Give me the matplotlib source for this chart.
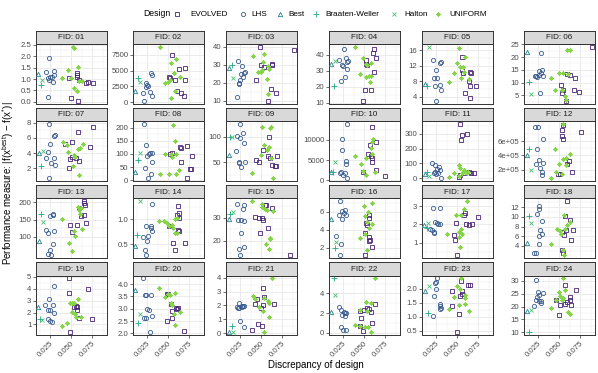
import numpy as np
import matplotlib
matplotlib.use("Agg")
import matplotlib.pyplot as plt
from matplotlib.lines import Line2D

plt.rcParams["font.family"] = ["Liberation Sans", "DejaVu Sans"]
plt.rcParams["mathtext.fontset"] = "custom"
plt.rcParams["mathtext.rm"] = "Liberation Sans"

# Design of every point, same order in every panel:
# Best, Braaten-Weller, Halton, 10 x LHS, 10 x UNIFORM, 10 x EVOLVED
designs = (["Best", "Braaten-Weller", "Halton"] + ["LHS"] * 10
           + ["UNIFORM"] * 10 + ["EVOLVED"] * 10)

legend_order = ["EVOLVED", "LHS", "Best", "Braaten-Weller", "Halton", "UNIFORM"]

# x = discrepancy of design, y = performance measure (one pair per FID)
f01_x = [0.0111, 0.0139, 0.0155, 0.0238, 0.0198, 0.0222, 0.025, 0.027, 0.0302, 0.0302, 0.0282, 0.0222, 0.0242,
         0.052, 0.0536, 0.0579, 0.0464, 0.0393, 0.0496, 0.0599, 0.0627, 0.0536, 0.0567,
         0.0567, 0.0575, 0.0476, 0.0599, 0.0679, 0.0706, 0.0766, 0.050, 0.0579, 0.0567]
f01_y = [1.22, 0.74, 0.96, 1.92, 1.32, 1.03, 1.08, 1.10, 1.34, 1.19, 0.88, 0.22, 0.97,
         2.41, 2.35, 1.54, 1.40, 1.05, 1.05, 0.93, 0.90, 0.62, 0.46,
         1.26, 1.10, 1.05, 0.95, 0.81, 0.86, 0.82, 0.16, 0.05, 1.18]

f02_x = [0.0111, 0.0143, 0.0163, 0.0214, 0.0202, 0.0242, 0.0254, 0.0234, 0.0262, 0.0294, 0.031, 0.029, 0.031,
         0.0401, 0.0591, 0.054, 0.0567, 0.0639, 0.046, 0.050, 0.052, 0.0587, 0.054,
         0.0548, 0.0627, 0.0698, 0.0508, 0.052, 0.0579, 0.0706, 0.0611, 0.0659, 0.0687]
f02_y = [1795, 3800, 3270, 210, 1425, 3010, 2690, 2430, 2550, 4590, 4280, 1640, 1000,
         8820, 6920, 6180, 4700, 4070, 3010, 3270, 3540, 1690, 630,
         7440, 5330, 5490, 4070, 3910, 3480, 3540, 1690, 1425, 900]

f03_x = [0.0123, 0.0155, 0.0163, 0.0226, 0.027, 0.021, 0.0242, 0.025, 0.0262, 0.029, 0.031, 0.0302, 0.0242,
         0.0409, 0.054, 0.0528, 0.0468, 0.050, 0.0508, 0.0599, 0.0587, 0.0567, 0.0587,
         0.0488, 0.0895, 0.0496, 0.054, 0.0627, 0.0635, 0.044, 0.0619, 0.0675, 0.0579]
f03_y = [28.4, 29.7, 22.9, 32.1, 29.3, 12.2, 20.1, 21.4, 24.7, 23.3, 26.2, 25.3, 19.2,
         34.9, 35.8, 31.7, 26.2, 25.7, 27.0, 27.9, 29.3, 22.3, 13.7,
         40.0, 38.2, 29.9, 28.8, 30.3, 29.7, 21.4, 16.4, 14.6, 10.0]

f04_x = [0.0111, 0.0143, 0.0159, 0.0258, 0.0282, 0.0302, 0.0242, 0.025, 0.0302, 0.0278, 0.0222, 0.0202, 0.031,
         0.0389, 0.0488, 0.054, 0.0587, 0.052, 0.0456, 0.0528, 0.056, 0.0587, 0.0567,
         0.0615, 0.0607, 0.0639, 0.052, 0.0536, 0.0615, 0.0508, 0.0579, 0.0492, 0.0528]
f04_y = [34.2, 20.6, 36.3, 44.0, 38.3, 35.8, 33.5, 33.1, 31.5, 26.3, 23.75, 36.7, 36.0,
         45.2, 37.9, 33.75, 35.2, 34.2, 28.3, 26.25, 26.9, 26.9, 23.3,
         43.5, 41.0, 37.9, 36.9, 33.5, 29.6, 18.3, 18.1, 11.25, 34.2]

f05_x = [0.0123, 0.0143, 0.0171, 0.021, 0.0302, 0.0313, 0.025, 0.0222, 0.0262, 0.0234, 0.0294, 0.031, 0.025,
         0.0528, 0.0591, 0.050, 0.054, 0.0571, 0.046, 0.0579, 0.0401, 0.0548, 0.0639,
         0.056, 0.0567, 0.0659, 0.0667, 0.0639, 0.0659, 0.073, 0.0591, 0.0651, 0.056]
f05_y = [7.4, 6.9, 16.9, 13.4, 12.8, 13.0, 10.9, 8.9, 8.9, 6.9, 7.1, 5.7, 3.0,
         16.6, 14.25, 12.8, 11.7, 11.6, 10.05, 10.3, 7.8, 8.8, 8.6,
         14.3, 10.1, 10.3, 10.1, 8.2, 6.8, 6.8, 5.0, 3.8, 11.0]

f06_x = [0.0115, 0.0147, 0.0163, 0.029, 0.0262, 0.029, 0.021, 0.023, 0.0242, 0.031, 0.027, 0.0302, 0.0262,
         0.0599, 0.0635, 0.0496, 0.0548, 0.0401, 0.0607, 0.0456, 0.0536, 0.0567, 0.0587,
         0.0890, 0.0595, 0.0635, 0.0694, 0.0528, 0.0548, 0.0536, 0.0675, 0.0738, 0.0587]
f06_y = [22.2, 10.2, 5.4, 21.5, 14.7, 13.8, 12.5, 12.5, 12.1, 12.4, 6.0, 15.1, 13.0,
         22.7, 22.8, 13.8, 13.8, 11.8, 13.4, 6.9, 6.9, 4.6, 3.0,
         24.1, 13.4, 13.1, 11.7, 8.9, 6.9, 6.0, 6.9, 6.3, 2.8]

f07_x = [0.0124, 0.0142, 0.017, 0.0242, 0.0297, 0.031, 0.025, 0.0206, 0.0297, 0.0265, 0.0306, 0.0233, 0.022,
         0.040, 0.0456, 0.0638, 0.0601, 0.058, 0.0465, 0.0533, 0.0547, 0.0524, 0.0592,
         0.0583, 0.0765, 0.0515, 0.0433, 0.0728, 0.0515, 0.0556, 0.0592, 0.048, 0.049]
f07_y = [4.0, 2.35, 4.25, 7.86, 6.2, 6.4, 5.2, 3.37, 3.37, 2.7, 2.45, 0.7, 4.1,
         5.5, 5.1, 5.2, 4.65, 4.55, 4.1, 3.76, 3.45, 2.35, 1.1,
         6.75, 7.5, 5.4, 5.2, 4.8, 3.45, 3.3, 3.0, 2.05, 3.2]

f08_x = [0.011, 0.0147, 0.017, 0.021, 0.0238, 0.0224, 0.0306, 0.0283, 0.027, 0.0306, 0.0256, 0.030, 0.0247,
         0.0556, 0.058, 0.046, 0.0533, 0.0551, 0.059, 0.0406, 0.0506, 0.0597, 0.0633,
         0.0642, 0.0656, 0.0728, 0.0788, 0.0656, 0.0756, 0.077, 0.0728, 0.0529, 0.0552]
f08_y = [30.6, 75, 103, 215, 136, 47, 103, 103, 98, 71, 9, 24, 94,
         209, 148, 101, 98, 90, 101, 24, 22, 22, 37,
         126, 122, 132, 94, 69, 41, 41, 8, 98, 103]

f09_x = [0.0115, 0.0129, 0.016, 0.025, 0.0283, 0.0215, 0.025, 0.0206, 0.0238, 0.0261, 0.0306, 0.0243, 0.0297,
         0.0569, 0.0592, 0.0624, 0.0601, 0.0515, 0.0538, 0.0501, 0.0615, 0.0397, 0.0638,
         0.0592, 0.0606, 0.0629, 0.0693, 0.0661, 0.0683, 0.0583, 0.0524, 0.0478, 0.044]
f09_y = [64, 100, 100, 125, 107, 101, 97, 71, 50, 41, 51, 49, 87,
         74, 80, 119, 116, 119, 84, 64, 58, 29, 19,
         99, 58, 45, 62, 42, 42, 63, 74, 51, 55]

f10_x = [0.0111, 0.013, 0.0155, 0.0297, 0.0242, 0.0242, 0.0282, 0.0282, 0.021, 0.023, 0.025, 0.0278, 0.030,
         0.0611, 0.0599, 0.058, 0.0591, 0.0389, 0.046, 0.052, 0.0488, 0.0528, 0.0627,
         0.0592, 0.0639, 0.0575, 0.0548, 0.0579, 0.060, 0.0595, 0.0639, 0.0488, 0.0746]
f10_y = [2000, 2000, 4500, 13960, 10160, 7400, 4750, 4080, 1830, 2000, 1250, 1830, 580,
         10160, 9580, 8080, 6410, 6000, 4080, 5410, 2250, 1420, 2000,
         13130, 9580, 8660, 6410, 6000, 5580, 4500, 2670, 2080, 1000]

f11_x = [0.0123, 0.0143, 0.0163, 0.0202, 0.0242, 0.0282, 0.0294, 0.0222, 0.025, 0.027, 0.031, 0.0262, 0.0238,
         0.046, 0.0528, 0.054, 0.058, 0.052, 0.0591, 0.0631, 0.040, 0.0619, 0.056,
         0.054, 0.056, 0.0552, 0.0619, 0.058, 0.067, 0.0698, 0.052, 0.0639, 0.0532]
f11_y = [29, 40, 16, 100, 89, 73, 56, 33, 27, 33, 2, 60, 44,
         33, 89, 67, 56, 16, 44, 44, 11, 38, 38,
         367, 289, 256, 300, 38, 38, 38, 11, 40, 22]

f12_x = [0.0123, 0.0143, 0.0163, 0.0214, 0.025, 0.031, 0.0242, 0.0222, 0.0262, 0.031, 0.0278, 0.030, 0.030,
         0.0456, 0.0548, 0.0587, 0.0635, 0.050, 0.0579, 0.0468, 0.054, 0.0409, 0.0547,
         0.0551, 0.0532, 0.054, 0.0766, 0.0488, 0.0508, 0.060, 0.0659, 0.062, 0.0552]
f12_y = [402000, 482000, 190000, 795000, 795000, 623500, 482000, 285000, 341000, 294000, 223500, 167000, 129000,
         482000, 355000, 369000, 412000, 285000, 270000, 167000, 134000, 82000, 840000,
         828000, 757000, 670000, 732000, 143500, 143500, 285000, 167000, 320000, 628000]

f13_x = [0.0124, 0.0142, 0.017, 0.0288, 0.025, 0.028, 0.0206, 0.0229, 0.0297, 0.0288, 0.025, 0.0229, 0.026,
         0.0397, 0.0579, 0.0592, 0.0601, 0.0629, 0.0533, 0.0547, 0.0474, 0.0506, 0.0615,
         0.0651, 0.066, 0.0669, 0.066, 0.0615, 0.0683, 0.0492, 0.051, 0.0592, 0.0569]
f13_y = [88, 166, 144, 166, 160, 163, 119, 112, 117, 79, 63, 50, 47,
         153, 187, 178, 168, 122, 117, 102, 83, 59, 183,
         204, 199, 194, 163, 160, 139, 134, 115, 183, 136]

f14_x = [0.011, 0.0133, 0.0165, 0.0306, 0.0234, 0.0301, 0.0292, 0.0306, 0.0201, 0.026, 0.0247, 0.0224, 0.0238,
         0.0397, 0.0452, 0.0488, 0.0511, 0.0542, 0.058, 0.0612, 0.0565, 0.0588, 0.0601,
         0.0624, 0.0633, 0.061, 0.0624, 0.0633, 0.0511, 0.0556, 0.058, 0.0706, 0.0633]
f14_y = [0.467, 0.687, 1.373, 1.32, 0.867, 0.867, 0.82, 0.767, 0.653, 0.667, 0.553, 0.387, 0.273,
         0.973, 0.973, 0.92, 0.867, 0.887, 1.007, 1.02, 0.82, 0.733, 0.733,
         1.273, 1.133, 1.087, 0.787, 0.773, 0.867, 0.52, 0.387, 0.52, 1.02]

f15_x = [0.0115, 0.0135, 0.0165, 0.0215, 0.0297, 0.0288, 0.0229, 0.0261, 0.0297, 0.0261, 0.0243, 0.0297, 0.0252,
         0.0397, 0.0515, 0.0547, 0.0569, 0.0638, 0.0511, 0.0565, 0.0606, 0.061, 0.0597,
         0.0433, 0.047, 0.0515, 0.0629, 0.0565, 0.0588, 0.0483, 0.0529, 0.0842, 0.0551]
f15_y = [29.6, 31.5, 32.3, 36.0, 35.3, 33.6, 29.1, 29.1, 28.6, 23.4, 16.7, 17.4, 13.9,
         37.1, 36.0, 33.9, 33.1, 32.7, 34.6, 18.9, 21.3, 21.0, 16.7,
         30.3, 30.0, 30.0, 34.1, 35.3, 25.6, 23.6, 28.9, 14.1, 35.3]

f16_x = [0.0112, 0.0151, 0.0165, 0.021, 0.0233, 0.0256, 0.0206, 0.0279, 0.0242, 0.0165, 0.022, 0.021, 0.0288,
         0.0600, 0.0495, 0.0545, 0.0510, 0.0532, 0.0600, 0.0555, 0.0510, 0.0450, 0.0540,
         0.0555, 0.0555, 0.0522, 0.0532, 0.0510, 0.0555, 0.0600, 0.0555, 0.0510, 0.0568]
f16_y = [5.17, 2.0, 2.6, 7.2, 6.1, 5.85, 5.7, 6.2, 5.17, 3.34, 2.38, 1.16, 5.6,
         7.0, 6.7, 5.93, 5.55, 4.86, 4.6, 4.2, 3.56, 3.07, 1.73,
         5.66, 5.36, 4.79, 4.48, 3.64, 3.18, 2.11, 2.76, 1.16, 2.88]

f17_x = [0.0106, 0.0138, 0.0152, 0.0215, 0.0297, 0.0243, 0.0261, 0.0274, 0.0297, 0.0183, 0.0206, 0.0229, 0.022,
         0.0615, 0.0583, 0.0547, 0.0492, 0.0547, 0.0524, 0.0565, 0.0383, 0.0524, 0.0533,
         0.0579, 0.0592, 0.0606, 0.0638, 0.0674, 0.075, 0.0483, 0.0461, 0.0474, 0.0497]
f17_y = [1.95, 1.82, 2.09, 2.89, 2.91, 2.13, 2.09, 2.04, 2.0, 1.76, 1.67, 1.58, 1.53,
         3.27, 2.85, 2.49, 2.49, 1.76, 1.58, 1.49, 1.45, 1.31, 0.76,
         2.49, 2.64, 2.04, 1.98, 2.0, 2.4, 2.09, 1.4, 1.16, 0.31]

f18_x = [0.0121, 0.0139, 0.0166, 0.0256, 0.0233, 0.0265, 0.0302, 0.0279, 0.0297, 0.0265, 0.0256, 0.022, 0.0197,
         0.056, 0.0597, 0.0479, 0.0515, 0.0574, 0.0629, 0.0529, 0.0547, 0.0565, 0.0401,
         0.0597, 0.0569, 0.0629, 0.0661, 0.0642, 0.0538, 0.056, 0.0538, 0.0551, 0.0583]
f18_y = [4.6, 10.1, 8.7, 12.15, 10.6, 11.7, 9.07, 7.36, 6.53, 6.05, 4.34, 2.63, 2.63,
         10.3, 8.25, 7.56, 7.0, 7.42, 8.9, 6.53, 3.1, 2.1, 4.34,
         13.25, 10.1, 9.4, 7.2, 5.2, 6.88, 6.33, 3.1, 2.56, 7.2]

f19_x = [0.0111, 0.0131, 0.0159, 0.0302, 0.0242, 0.019, 0.029, 0.023, 0.025, 0.0298, 0.022, 0.025, 0.0278,
         0.0587, 0.054, 0.0488, 0.0508, 0.0516, 0.0548, 0.056, 0.0619, 0.0448, 0.0389,
         0.0476, 0.0698, 0.0476, 0.056, 0.0567, 0.0567, 0.0595, 0.0746, 0.0488, 0.054]
f19_y = [2.48, 1.45, 1.39, 4.25, 3.18, 2.62, 2.62, 2.2, 2.2, 1.95, 1.5, 1.31, 1.17,
         3.13, 2.85, 2.79, 2.79, 2.06, 1.87, 1.67, 1.59, 1.08, 0.89,
         4.89, 4.03, 3.63, 2.57, 2.43, 2.2, 1.53, 1.5, 0.33, 2.43]

f20_x = [0.0111, 0.0143, 0.0163, 0.0202, 0.023, 0.0242, 0.0302, 0.025, 0.027, 0.031, 0.0214, 0.0242, 0.0282,
         0.0393, 0.046, 0.050, 0.0587, 0.0532, 0.0544, 0.0639, 0.0567, 0.0587, 0.052,
         0.0488, 0.0536, 0.0544, 0.0595, 0.0615, 0.0544, 0.0484, 0.0695, 0.0504, 0.0607]
f20_y = [3.77, 2.41, 2.78, 4.24, 3.55, 3.55, 3.57, 2.99, 2.96, 2.69, 2.61, 2.61, 2.04,
         3.84, 3.49, 3.62, 3.66, 3.23, 3.15, 2.85, 2.78, 2.35, 3.55,
         3.62, 3.19, 2.92, 3.03, 3.03, 2.61, 2.51, 2.11, 3.59, 3.01]

f21_x = [0.0123, 0.0151, 0.017, 0.0238, 0.021, 0.0238, 0.027, 0.029, 0.0302, 0.025, 0.0298, 0.0278, 0.0222,
         0.0635, 0.040, 0.0429, 0.054, 0.058, 0.060, 0.052, 0.048, 0.060, 0.054,
         0.0528, 0.0456, 0.054, 0.0429, 0.0528, 0.0659, 0.0496, 0.0468, 0.0508, 0.0389]
f21_y = [0.12, 0.55, 0.07, 2.21, 1.9, 1.81, 1.86, 1.98, 1.93, 0.9, 0.48, 1.93, 1.81,
         3.95, 2.69, 2.45, 2.57, 2.29, 2.17, 1.62, 1.86, 1.21, 0.12,
         3.24, 2.5, 2.62, 2.1, 2.02, 2.1, 1.81, 0.67, 0.55, 0.26]

f22_x = [0.0111, 0.0139, 0.0159, 0.0202, 0.023, 0.0262, 0.029, 0.0242, 0.0278, 0.023, 0.025, 0.029, 0.027,
         0.0627, 0.0528, 0.0587, 0.0536, 0.0448, 0.0389, 0.0448, 0.0516, 0.0548, 0.0587,
         0.0627, 0.0536, 0.0556, 0.0583, 0.046, 0.0448, 0.0599, 0.0488, 0.0496, 0.0448]
f22_y = [2.14, 5.53, 3.83, 2.58, 2.31, 2.07, 1.97, 1.8, 1.66, 0.54, 0.31, 0.27, 2.0,
         5.53, 3.15, 3.02, 2.24, 2.31, 0.81, 0.71, 0.54, 0.61, 0.03,
         2.92, 2.47, 2.41, 2.07, 1.46, 0.71, 0.95, 0.2, 2.31, 2.24]

f23_x = [0.0123, 0.0151, 0.0171, 0.0262, 0.025, 0.0234, 0.025, 0.023, 0.0302, 0.0302, 0.0294, 0.031, 0.021,
         0.0548, 0.050, 0.054, 0.046, 0.059, 0.060, 0.059, 0.0528, 0.0401, 0.0639,
         0.0552, 0.0631, 0.065, 0.044, 0.0564, 0.0536, 0.044, 0.0528, 0.050, 0.0564]
f23_y = [1.92, 1.15, 2.12, 2.38, 2.26, 2.21, 2.0, 1.76, 1.47, 1.39, 1.29, 1.33, 1.02,
         2.38, 2.09, 2.0, 1.7, 1.79, 1.67, 1.47, 1.43, 1.27, 1.21,
         2.29, 2.15, 2.15, 1.94, 1.94, 1.76, 1.37, 1.11, 0.44, 1.8]

f24_x = [0.0118, 0.0147, 0.0163, 0.0222, 0.025, 0.0262, 0.0242, 0.023, 0.0258, 0.029, 0.031, 0.0202, 0.0282,
         0.0548, 0.0575, 0.050, 0.0548, 0.0516, 0.0536, 0.040, 0.0468, 0.0607, 0.0635,
         0.0575, 0.0706, 0.0627, 0.0635, 0.060, 0.0575, 0.0639, 0.046, 0.0508, 0.0496]
f24_y = [18.2, 10, 18.5, 30.3, 25.8, 24.6, 23.6, 22.4, 22, 22.1, 25.2, 20.2, 21.5,
         30.9, 26.2, 25.8, 23.4, 23.9, 22.6, 19.6, 22.4, 17.9, 17,
         28.3, 26.4, 23.6, 22.6, 21.7, 21.1, 20.4, 22.4, 20.4, 16.6]

# y axis breaks of each panel
y_ticks = [
    [0, 0.5, 1.0, 1.5, 2.0, 2.5], [0, 2500, 5000, 7500], [10, 20, 30, 40], [10, 20, 30, 40],
    [4, 8, 12, 16], [5, 10, 15, 20, 25], [2, 4, 6, 8], [0, 50, 100, 150, 200],
    [50, 100], [0, 5000, 10000], [0, 100, 200, 300], [2e5, 4e5, 6e5],
    [100, 150, 200], [0.5, 1.0], [20, 30], [2, 4, 6],
    [1, 2, 3], [4, 6, 8, 10, 12], [1, 2, 3, 4, 5], [2.0, 2.5, 3.0, 3.5, 4.0],
    [0, 1, 2, 3, 4], [0, 2, 4], [0.5, 1.0, 1.5, 2.0], [10, 15, 20, 25, 30],
]
y_labels = [
    ["0.0", "0.5", "1.0", "1.5", "2.0", "2.5"], ["0", "2500", "5000", "7500"], ["10", "20", "30", "40"],
    ["10", "20", "30", "40"], ["4", "8", "12", "16"], ["5", "10", "15", "20", "25"],
    ["2", "4", "6", "8"], ["0", "50", "100", "150", "200"], ["50", "100"],
    ["0", "5000", "10000"], ["0", "100", "200", "300"], ["2e+05", "4e+05", "6e+05"],
    ["100", "150", "200"], ["0.5", "1.0"], ["20", "30"], ["2", "4", "6"],
    ["1", "2", "3"], ["4", "6", "8", "10", "12"], ["1", "2", "3", "4", "5"],
    ["2.0", "2.5", "3.0", "3.5", "4.0"], ["0", "1", "2", "3", "4"], ["0", "2", "4"],
    ["0.5", "1.0", "1.5", "2.0"], ["10", "15", "20", "25", "30"],
]
x_ticks = [0.025, 0.050, 0.075]
x_labels = ["0.025", "0.050", "0.075"]

panels_x = [f01_x, f02_x, f03_x, f04_x, f05_x, f06_x, f07_x, f08_x, f09_x, f10_x, f11_x, f12_x,
            f13_x, f14_x, f15_x, f16_x, f17_x, f18_x, f19_x, f20_x, f21_x, f22_x, f23_x, f24_x]
panels_y = [f01_y, f02_y, f03_y, f04_y, f05_y, f06_y, f07_y, f08_y, f09_y, f10_y, f11_y, f12_y,
            f13_y, f14_y, f15_y, f16_y, f17_y, f18_y, f19_y, f20_y, f21_y, f22_y, f23_y, f24_y]

# styles
cmap = plt.get_cmap("viridis")
colors = dict(zip(legend_order, [cmap(v) for v in [0.1, 0.28, 0.45, 0.6, 0.7, 0.82]]))
markers = {"EVOLVED": "s", "LHS": "o", "Best": "^", "Braaten-Weller": "+",
           "Halton": "x", "UNIFORM": (8, 2, 0)}
msizes = {"EVOLVED": 2.8, "LHS": 3.0, "Best": 3.1, "Braaten-Weller": 4.0,
          "Halton": 3.0, "UNIFORM": 3.0}

W, H = 598, 373
fig = plt.figure(figsize=(W / 100, H / 100), dpi=100)

col_left = [36, 133, 226, 329, 422, 524]
strip_top = [30.7, 107.9, 185.1, 262.3]
pw, sh, ph = 71, 13.3, 59.5
grey20 = "#333333"
grey30 = "#4D4D4D"
xlim = (0.0083, 0.0928)

for i in range(24):
    r, c = divmod(i, 6)
    x0 = col_left[c]
    top = strip_top[r] + sh
    ax = fig.add_axes([x0 / W, 1 - (top + ph) / H, pw / W, ph / H])
    st = fig.add_axes([x0 / W, 1 - top / H, pw / W, sh / H])
    st.set_facecolor("#D9D9D9")
    st.set_xticks([])
    st.set_yticks([])
    for s in st.spines.values():
        s.set_color(grey20)
        s.set_linewidth(0.7)
    st.text(0.5, 0.48, "FID: %02d" % (i + 1), ha="center", va="center",
            fontsize=5.8, color="#1A1A1A", transform=st.transAxes)

    xs = np.array(panels_x[i])
    ys = np.array(panels_y[i])
    d = np.array(designs)
    for name in legend_order:
        m = d == name
        ax.plot(xs[m], ys[m], linestyle="none", marker=markers[name],
                markersize=msizes[name], markerfacecolor="none",
                markeredgecolor=colors[name], markeredgewidth=0.6, zorder=3)

    lo, hi = ys.min(), ys.max()
    pad = (hi - lo) * 0.05
    ax.set_ylim(lo - pad, hi + pad)
    ax.set_xlim(*xlim)

    yt = y_ticks[i]
    step = yt[1] - yt[0]
    ax.set_yticks(yt)
    ax.set_yticklabels(y_labels[i])
    ymin = np.arange(yt[0] - step / 2, yt[-1] + step, step)
    ax.set_yticks([v for v in ymin if lo - pad <= v <= hi + pad], minor=True)
    ax.set_xticks(x_ticks)
    ax.set_xticks([0.0125, 0.0375, 0.0625, 0.0875], minor=True)
    ax.grid(True, which="major", color="#EBEBEB", linewidth=0.7)
    ax.grid(True, which="minor", color="#EBEBEB", linewidth=0.35)
    ax.set_axisbelow(True)

    ax.tick_params(axis="y", which="major", length=2.2, width=0.5, color=grey20,
                   labelsize=5.6, labelcolor=grey30, pad=1.2)
    ax.tick_params(which="minor", length=0)
    if r == 3:
        ax.set_xticklabels(x_labels, rotation=45, ha="right", va="top",
                           rotation_mode="anchor")
        ax.tick_params(axis="x", which="major", length=2.2, width=0.5, color=grey20,
                       labelsize=5.6, labelcolor=grey30, pad=1.5)
    else:
        ax.tick_params(axis="x", which="major", length=0, labelbottom=False)
    for s in ax.spines.values():
        s.set_color(grey20)
        s.set_linewidth(0.7)

fig.text(316 / W, 1 - 365 / H, "Discrepancy of design", ha="center", va="center",
         fontsize=7, color="black")
fig.text(8 / W, 1 - 183 / H,
         r"Performance measure: |f(x$^{\mathrm{best}}$) $-$ f(x$^{*}$)|",
         rotation=90, ha="center", va="center", fontsize=7, color="black")

# legend on top
ly = 1 - 14 / H
fig.text(143 / W, ly, "Design", ha="left", va="center", fontsize=6.2)
key_x = [177, 243, 280, 316, 394, 438]
text_x = [190, 251, 288, 325, 404, 449]
for name, kx, tx in zip(legend_order, key_x, text_x):
    fig.add_artist(Line2D([kx / W], [ly], transform=fig.transFigure, linestyle="none",
                          marker=markers[name], markersize=msizes[name],
                          markerfacecolor="none", markeredgecolor=colors[name],
                          markeredgewidth=0.6))
    fig.text(tx / W, ly, name, ha="left", va="center", fontsize=5.9)

fig.savefig("out.png", dpi=100)
